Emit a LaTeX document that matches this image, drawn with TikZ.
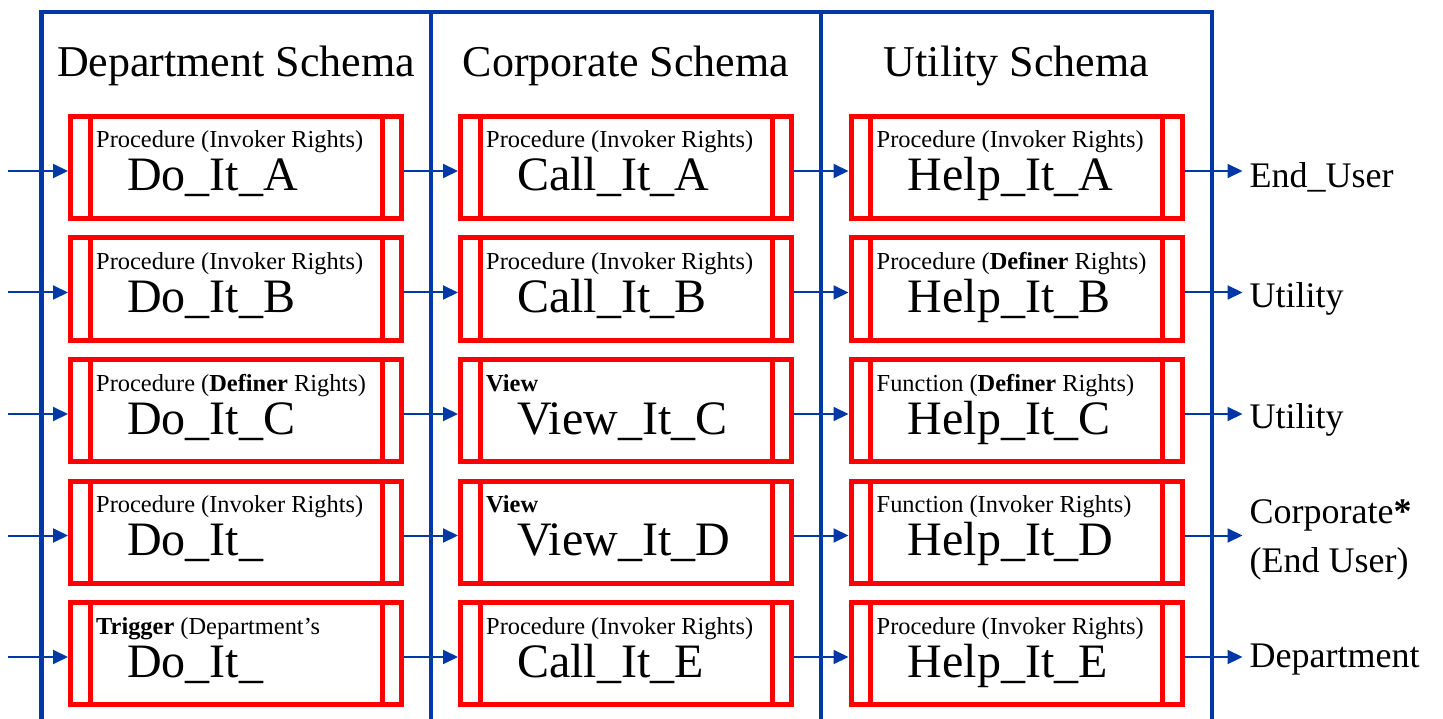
\documentclass[tikz,border=0pt]{standalone}
\usepackage{fontspec}
\setmainfont{Liberation Serif}
\usetikzlibrary{arrows.meta,calc}
\definecolor{frameblue}{RGB}{0,56,168}
\definecolor{boxred}{RGB}{255,0,0}
\tikzset{
  objbox/.style={draw=boxred, line width=5pt, minimum width=331pt, minimum height=102pt, inner sep=0pt},
  innerbar/.style={draw=boxred, line width=5pt},
  conn/.style={draw=frameblue, line width=2pt, -{Triangle[length=15pt,width=14pt]}},
  blueframe/.style={draw=frameblue, line width=4.5pt, line join=miter},
  kindtxt/.style={anchor=base west, inner sep=0pt, font=\fontsize{24.4}{26}\selectfont},
  objtxt/.style={anchor=base west, inner sep=0pt, font=\fontsize{48}{52}\selectfont},
  hdrtxt/.style={anchor=base, inner sep=0pt, font=\fontsize{44}{48}\selectfont},
  tgttxt/.style={anchor=west, inner sep=0pt, align=left, font=\fontsize{36}{49}\selectfont},
}
\newcommand{\objcell}[5]{%
  \node[objbox] (#1) at (#2,#3+53.5) {};
  \draw[innerbar] ([xshift=22pt]#1.north west) -- ([xshift=22pt]#1.south west);
  \draw[innerbar] ([xshift=-22pt]#1.north east) -- ([xshift=-22pt]#1.south east);
  \node[kindtxt] (#1k) at ($(#1.north west)+(28,34)$) {#4};
  \node[objtxt] (#1n) at ($(#1.north west)+(59,77)$) {#5};
}
\begin{document}
\begin{tikzpicture}[x=1pt,y=-1pt]
\useasboundingbox (0,0) rectangle (1443,719);
% schema frame
\draw[blueframe] (41.5,740) -- (41.5,12) -- (1212,12) -- (1212,740);
\draw[blueframe] (431,12) -- (431,740);
\draw[blueframe] (821,12) -- (821,740);
% headers
\node[hdrtxt] (h1) at (236,77) {Department Schema};
\node[hdrtxt] (h2) at (626,77) {Corporate Schema};
\node[hdrtxt] (h3) at (1016.5,77) {Utility Schema};
% department column
\objcell{a1}{236}{114}{Procedure (Invoker Rights)}{Do\_It\_A}
\objcell{a2}{236}{235.5}{Procedure (Invoker Rights)}{Do\_It\_B}
\objcell{a3}{236}{357}{Procedure (\textbf{Definer} Rights)}{Do\_It\_C}
\objcell{a4}{236}{478.5}{Procedure (Invoker Rights)}{Do\_It\_}
\objcell{a5}{236}{600}{\textbf{Trigger} (Department’s}{Do\_It\_}
% corporate column
\objcell{b1}{626}{114}{Procedure (Invoker Rights)}{Call\_It\_A}
\objcell{b2}{626}{235.5}{Procedure (Invoker Rights)}{Call\_It\_B}
\objcell{b3}{626}{357}{\textbf{View}}{View\_It\_C}
\objcell{b4}{626}{478.5}{\textbf{View}}{View\_It\_D}
\objcell{b5}{626}{600}{Procedure (Invoker Rights)}{Call\_It\_E}
% utility column
\objcell{c1}{1016.5}{114}{Procedure (Invoker Rights)}{Help\_It\_A}
\objcell{c2}{1016.5}{235.5}{Procedure (\textbf{Definer} Rights)}{Help\_It\_B}
\objcell{c3}{1016.5}{357}{Function (\textbf{Definer} Rights)}{Help\_It\_C}
\objcell{c4}{1016.5}{478.5}{Function (Invoker Rights)}{Help\_It\_D}
\objcell{c5}{1016.5}{600}{Procedure (Invoker Rights)}{Help\_It\_E}
% connectors
\foreach \r in {1,...,5}{
  \coordinate (src\r) at ($(a\r.west)+(-60,3.5)$);
  \coordinate (dst\r) at ($(c\r.east)+(58,3.5)$);
  \draw[conn] (src\r) -- ([yshift=-3.5pt]a\r.west);
  \draw[conn] ([yshift=-3.5pt]a\r.east) -- ([yshift=-3.5pt]b\r.west);
  \draw[conn] ([yshift=-3.5pt]b\r.east) -- ([yshift=-3.5pt]c\r.west);
  \draw[conn] ([yshift=-3.5pt]c\r.east) -- (dst\r);
}
% grantee labels
\node[tgttxt] (g1) at ($(dst1)+(7,6)$) {End\_User};
\node[tgttxt] (g2) at ($(dst2)+(7,6)$) {Utility};
\node[tgttxt] (g3) at ($(dst3)+(7,6)$) {Utility};
\node[tgttxt] (g4) at ($(dst4)+(7,4)$) {Corporate\textbf{*}\\(End User)};
\node[tgttxt] (g5) at ($(dst5)+(7,3)$) {Department};
\end{tikzpicture}
\end{document}
